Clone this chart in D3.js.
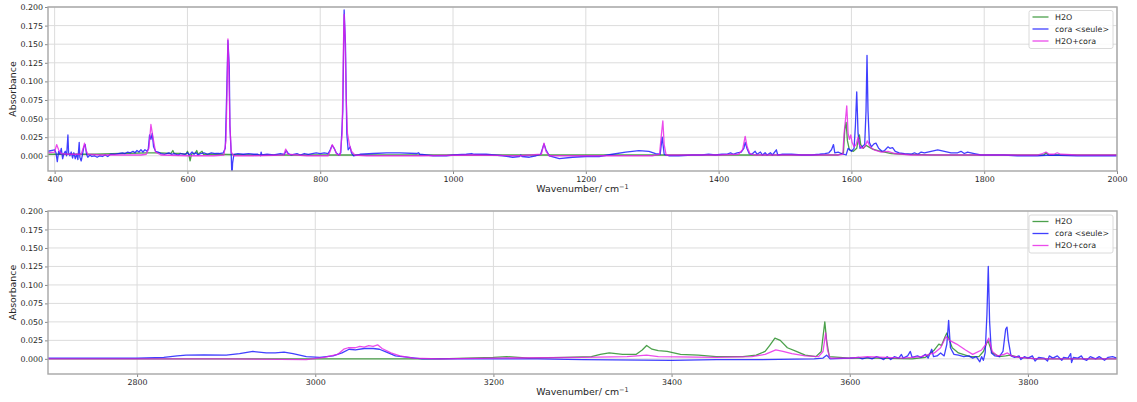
<!DOCTYPE html>
<head>
	<script src="https://d3js.org/d3.v7.min.js"></script>
	<style>
		body {
			margin: 0;
			background: #fff;
		}
		text {
			font-family: "DejaVu Sans", sans-serif;
			fill: #262626;
		}
		.tick text {
			font-size: 7.9px;
		}
		.label {
			font-size: 9.4px;
		}
		.legend text {
			font-size: 7.9px;
		}
	</style>
</head>
<body>
	<script>
		var seriesNames = ["H2O", "cora <seule>", "H2O+cora"];
		var seriesColors = ["#1f8a1f", "#1010ff", "#e61ee6"];
		var yTicks = [0, 0.025, 0.05, 0.075, 0.1, 0.125, 0.15, 0.175, 0.2];
		var xTicksTop = [400, 600, 800, 1000, 1200, 1400, 1600, 1800, 2000];
		var xTicksBottom = [2800, 3000, 3200, 3400, 3600, 3800];

		// top panel, 390 - 2000 cm-1
		var h2oLow = [[390,0.002],[420,0.002],[460,0.002],[500,0.003],[540,0.004],[560,0.004],[575,0.003],[578,0.007],[580,0.003],[590,0.003],[598,0.002],[600,0.006],[602,0.002],[604,-0.007],[606,0.002],[612,0.004],[614,0.007],[616,0.002],[622,0.006],[624,0.002],[640,0.002],[700,0.001],[800,0.001],[900,0.001],[1100,0.001],[1300,0.001],[1500,0.001],[1580,0.001],[1588,0.004],[1590,0.035],[1592,0.045],[1594,0.020],[1597,0.008],[1603,0.006],[1608,0.010],[1610,0.020],[1612,0.028],[1614,0.015],[1618,0.010],[1622,0.014],[1626,0.012],[1632,0.009],[1640,0.007],[1650,0.005],[1660,0.003],[1680,0.002],[1720,0.001],[1800,0.001],[1890,0.001],[1893,0.004],[1897,0.001],[2000,0.001]];
		var coraLow = [[390,0.006],[400,0.008],[402,0.004],[404,-0.008],[406,0.006],[408,0.002],[410,0.010],[412,-0.004],[414,0.003],[416,0.006],[418,0.000],[420,0.028],[421,0.004],[423,0.000],[425,0.005],[427,-0.003],[429,0.004],[431,-0.004],[433,0.002],[435,-0.005],[437,0.018],[438,-0.002],[440,-0.007],[442,0.002],[444,0.012],[446,0.015],[448,0.002],[450,-0.002],[453,0.001],[456,-0.001],[460,0.000],[464,-0.002],[468,0.000],[472,-0.001],[476,0.001],[480,-0.001],[484,0.002],[490,0.002],[496,0.003],[502,0.004],[506,0.003],[510,0.005],[514,0.004],[518,0.006],[521,0.004],[524,0.007],[527,0.005],[530,0.008],[533,0.005],[536,0.008],[539,0.006],[541,0.009],[543,0.028],[545,0.022],[547,0.030],[549,0.012],[552,0.006],[556,0.005],[560,0.003],[566,0.002],[572,0.004],[576,0.002],[580,0.003],[586,0.001],[590,0.003],[596,0.002],[600,0.004],[603,0.001],[607,0.005],[610,0.002],[613,0.004],[616,0.001],[620,0.003],[625,0.004],[630,0.002],[636,0.004],[642,0.003],[648,0.003],[654,0.004],[657,0.010],[659,0.080],[661,0.155],[663,0.120],[664,0.040],[666,0.000],[667,-0.030],[668,-0.010],[670,0.002],[676,0.003],[684,0.002],[692,0.003],[700,0.002],[706,0.002],[710,0.000],[711,0.005],[712,0.001],[720,0.002],[730,0.001],[740,0.003],[746,0.002],[749,0.007],[752,0.003],[756,0.001],[760,0.002],[765,0.003],[770,0.001],[776,0.003],[782,0.002],[788,0.003],[794,0.004],[800,0.003],[806,0.004],[812,0.003],[815,0.008],[818,0.014],[821,0.010],[824,0.004],[828,0.001],[831,0.004],[834,0.060],[836,0.196],[838,0.150],[840,0.030],[842,0.008],[845,0.012],[847,0.004],[850,0.000],[860,0.002],[880,0.003],[900,0.004],[920,0.004],[945,0.003],[948,0.004],[950,0.002],[970,0.000],[990,0.000],[1000,0.001],[1020,0.002],[1028,0.003],[1032,0.002],[1050,0.002],[1075,0.000],[1090,-0.002],[1100,-0.001],[1102,0.001],[1104,-0.001],[1115,-0.002],[1125,0.000],[1132,0.002],[1137,0.016],[1140,0.008],[1145,0.000],[1160,-0.004],[1180,-0.002],[1200,-0.001],[1220,-0.001],[1240,0.002],[1260,0.005],[1280,0.007],[1295,0.006],[1305,0.003],[1312,0.002],[1315,0.025],[1318,0.002],[1325,0.000],[1340,0.000],[1360,0.001],[1375,0.001],[1385,0.002],[1395,0.001],[1405,0.002],[1412,0.002],[1418,0.004],[1422,0.002],[1428,0.004],[1434,0.005],[1438,0.010],[1440,0.018],[1443,0.009],[1446,0.003],[1450,0.002],[1455,0.006],[1458,0.002],[1463,0.005],[1466,0.001],[1470,0.004],[1473,0.001],[1478,0.004],[1481,0.001],[1487,0.008],[1489,0.001],[1495,0.002],[1510,0.002],[1525,0.001],[1540,0.001],[1552,0.002],[1560,0.003],[1566,0.004],[1570,0.008],[1573,0.015],[1575,0.004],[1580,0.005],[1585,0.003],[1589,0.002],[1592,0.001],[1595,0.010],[1600,0.006],[1604,0.010],[1606,0.040],[1608,0.086],[1610,0.030],[1613,0.010],[1616,0.012],[1620,0.015],[1622,0.060],[1623.5,0.135],[1625,0.060],[1627,0.018],[1630,0.012],[1634,0.016],[1637,0.017],[1641,0.010],[1646,0.006],[1650,0.007],[1655,0.012],[1658,0.010],[1662,0.011],[1666,0.006],[1672,0.004],[1680,0.003],[1690,0.002],[1695,0.004],[1700,0.002],[1705,0.005],[1710,0.004],[1720,0.006],[1730,0.008],[1740,0.006],[1750,0.004],[1760,0.004],[1765,0.006],[1770,0.003],[1775,0.005],[1785,0.003],[1795,0.001],[1810,0.001],[1830,0.001],[1850,0.000],[1880,0.000],[1900,0.001],[1940,0.000],[2000,0.000]];
		var mixLow = [[390,0.004],[400,0.005],[403,0.015],[406,0.008],[410,0.003],[420,0.002],[440,0.002],[443,0.010],[445,0.017],[447,0.008],[450,0.002],[470,0.001],[500,0.001],[530,0.001],[538,0.002],[542,0.010],[545,0.042],[548,0.025],[552,0.005],[560,0.001],[600,0.000],[640,0.000],[655,0.001],[658,0.020],[660,0.100],[661,0.157],[662,0.130],[664,0.040],[666,0.005],[670,0.000],[700,0.000],[745,0.001],[748,0.009],[751,0.002],[780,0.000],[812,0.000],[815,0.006],[818,0.015],[821,0.010],[825,0.002],[830,0.001],[833,0.030],[835,0.150],[836,0.190],[837.5,0.160],[839,0.080],[841,0.030],[844,0.015],[847,0.006],[852,0.001],[870,0.000],[950,0.000],[1030,0.001],[1100,0.000],[1133,0.002],[1137,0.017],[1140,0.006],[1145,0.000],[1300,0.000],[1311,0.002],[1314,0.030],[1316,0.047],[1318,0.015],[1321,0.001],[1400,0.001],[1430,0.002],[1436,0.008],[1440,0.026],[1443,0.012],[1447,0.003],[1455,0.001],[1550,0.001],[1580,0.001],[1587,0.002],[1589,0.030],[1591,0.048],[1593,0.067],[1595,0.030],[1597,0.022],[1599,0.028],[1601,0.018],[1604,0.012],[1607,0.015],[1610,0.025],[1612,0.015],[1616,0.010],[1620,0.012],[1624,0.020],[1628,0.012],[1634,0.008],[1645,0.005],[1655,0.006],[1665,0.003],[1690,0.001],[1750,0.001],[1800,0.001],[1880,0.001],[1888,0.003],[1893,0.005],[1898,0.002],[1905,0.002],[1910,0.004],[1915,0.002],[1940,0.001],[2000,0.001]];

		// bottom panel, 2700 - 3900 cm-1
		var h2oHigh = [[2700,0.000],[3000,0.000],[3140,0.000],[3170,0.001],[3200,0.002],[3215,0.003],[3240,0.001],[3280,0.002],[3310,0.003],[3320,0.006],[3330,0.008],[3345,0.006],[3360,0.006],[3367,0.012],[3372,0.018],[3378,0.013],[3385,0.011],[3395,0.010],[3410,0.006],[3430,0.005],[3450,0.003],[3480,0.003],[3495,0.005],[3505,0.010],[3510,0.018],[3516,0.028],[3522,0.025],[3530,0.015],[3540,0.010],[3550,0.005],[3562,0.003],[3568,0.010],[3570,0.030],[3572,0.050],[3574,0.025],[3577,0.003],[3600,0.001],[3630,0.001],[3670,0.000],[3685,0.002],[3695,0.012],[3700,0.020],[3703,0.018],[3707,0.030],[3709,0.035],[3712,0.025],[3715,0.015],[3722,0.008],[3735,0.003],[3745,0.003],[3750,0.010],[3755,0.025],[3760,0.008],[3768,0.003],[3775,0.004],[3780,0.005],[3790,0.002],[3810,0.000],[3900,0.000]];
		var coraHigh = [[2700,0.001],[2800,0.001],[2830,0.002],[2845,0.004],[2855,0.005],[2875,0.0055],[2900,0.005],[2915,0.007],[2930,0.010],[2945,0.008],[2955,0.008],[2965,0.009],[2975,0.007],[2990,0.003],[3005,0.002],[3020,0.004],[3030,0.008],[3038,0.013],[3045,0.012],[3055,0.014],[3065,0.014],[3072,0.013],[3080,0.009],[3090,0.004],[3105,0.002],[3120,0.000],[3160,0.000],[3250,0.000],[3300,-0.001],[3400,-0.002],[3450,-0.001],[3500,-0.001],[3560,0.000],[3570,0.001],[3574,0.005],[3578,0.000],[3600,0.001],[3610,0.002],[3614,0.000],[3620,0.002],[3625,0.000],[3630,0.003],[3635,0.001],[3638,-0.001],[3642,0.003],[3646,-0.001],[3650,0.003],[3655,0.001],[3658,0.006],[3660,0.001],[3665,0.004],[3668,0.010],[3670,0.002],[3676,0.004],[3680,0.002],[3685,0.006],[3688,0.001],[3692,0.013],[3694,0.003],[3698,0.004],[3702,0.008],[3706,0.004],[3709,0.020],[3711,0.052],[3713,0.015],[3717,0.006],[3722,0.005],[3728,0.003],[3734,0.004],[3738,0.001],[3742,0.003],[3746,-0.004],[3748,0.003],[3750,-0.002],[3752,0.008],[3754,0.060],[3755.5,0.125],[3757,0.050],[3759,0.008],[3763,0.004],[3768,0.003],[3772,0.010],[3775,0.040],[3776.5,0.043],[3778,0.025],[3781,0.004],[3785,0.002],[3790,0.004],[3792,-0.001],[3796,0.003],[3800,0.001],[3805,0.004],[3808,-0.003],[3812,0.002],[3818,0.001],[3822,-0.003],[3824,0.004],[3828,0.001],[3833,0.004],[3838,-0.002],[3840,0.002],[3845,0.001],[3848,0.007],[3849,-0.005],[3851,0.002],[3856,0.001],[3860,0.004],[3862,0.000],[3866,-0.002],[3870,0.003],[3876,0.000],[3880,0.003],[3886,-0.002],[3890,0.002],[3895,0.003],[3900,0.001]];
		var mixHigh = [[2700,0.000],[2900,0.000],[2990,-0.001],[3010,0.002],[3025,0.006],[3032,0.013],[3037,0.015],[3045,0.015],[3050,0.017],[3055,0.016],[3060,0.018],[3065,0.017],[3070,0.019],[3075,0.014],[3085,0.008],[3095,0.004],[3110,0.001],[3140,0.000],[3200,0.001],[3300,0.002],[3350,0.003],[3372,0.005],[3385,0.003],[3450,0.002],[3490,0.003],[3505,0.006],[3517,0.012],[3525,0.010],[3535,0.007],[3550,0.004],[3565,0.003],[3570,0.010],[3573,0.035],[3575,0.012],[3578,0.001],[3600,0.001],[3620,0.003],[3640,0.002],[3660,0.001],[3680,0.003],[3695,0.008],[3702,0.015],[3708,0.030],[3712,0.025],[3720,0.020],[3730,0.012],[3738,0.006],[3748,0.012],[3753,0.020],[3756,0.028],[3760,0.010],[3766,0.004],[3773,0.006],[3777,0.008],[3782,0.004],[3790,0.002],[3810,0.000],[3900,0.000]];

		var width = 1137, height = 402;
		var svg = d3.select("body")
			.append("svg")
			.attr("width", width)
			.attr("height", height);

		var panels = [
			{ top: 7, bottom: 171, xDomain: [390, 2000], xTicks: xTicksTop, series: [h2oLow, coraLow, mixLow], labelY: 192 },
			{ top: 211, bottom: 374, xDomain: [2700, 3900], xTicks: xTicksBottom, series: [h2oHigh, coraHigh, mixHigh], labelY: 395 }
		];
		var left = 48, right = 1117;

		panels.forEach(function(p, pi) {
			var xScale = d3.scaleLinear().domain(p.xDomain).range([left, right]);
			var yScale = d3.scaleLinear().domain([-0.0205, 0.2]).range([p.bottom, p.top]);
			var g = svg.append("g");
			var clipId = "clip" + pi;

			g.append("clipPath").attr("id", clipId)
				.append("rect")
				.attr("x", left).attr("y", p.top)
				.attr("width", right - left).attr("height", p.bottom - p.top);

			// grid
			g.append("g").selectAll("line")
				.data(yTicks).enter().append("line")
				.attr("x1", left).attr("x2", right)
				.attr("y1", d => yScale(d)).attr("y2", d => yScale(d))
				.attr("stroke", "#dcdcdc").attr("stroke-width", 1);
			g.append("g").selectAll("line")
				.data(p.xTicks).enter().append("line")
				.attr("x1", d => xScale(d)).attr("x2", d => xScale(d))
				.attr("y1", p.top).attr("y2", p.bottom)
				.attr("stroke", "#dcdcdc").attr("stroke-width", 1);

			// spectra
			var line = d3.line()
				.x(d => xScale(d[0]))
				.y(d => yScale(d[1]));
			g.append("g").attr("clip-path", "url(#" + clipId + ")")
				.selectAll("path")
				.data(p.series).enter().append("path")
				.attr("d", line)
				.attr("fill", "none")
				.attr("stroke", (d, i) => seriesColors[i])
				.attr("stroke-opacity", 0.8)
				.attr("stroke-width", 1.3)
				.attr("stroke-linejoin", "round");

			// axes
			var xAxis = d3.axisBottom(xScale).tickValues(p.xTicks).tickSize(3).tickPadding(2).tickFormat(d3.format("d"));
			var yAxis = d3.axisLeft(yScale).tickValues(yTicks).tickSize(3).tickPadding(2).tickFormat(d3.format(".3f"));
			var gx = g.append("g").attr("transform", "translate(0," + p.bottom + ")").call(xAxis);
			var gy = g.append("g").attr("transform", "translate(" + left + ",0)").call(yAxis);
			[gx, gy].forEach(function(a) {
				a.select(".domain").remove();
				a.selectAll(".tick line").attr("stroke", "#888");
			});

			g.append("rect")
				.attr("x", left).attr("y", p.top)
				.attr("width", right - left).attr("height", p.bottom - p.top)
				.attr("fill", "none").attr("stroke", "#a6a6a6").attr("stroke-width", 1.4);

			// labels
			var xl = g.append("text").attr("class", "label")
				.attr("x", (left + right) / 2).attr("y", p.labelY)
				.attr("text-anchor", "middle")
				.text("Wavenumber/ cm");
			xl.append("tspan").attr("dy", -3.5).style("font-size", "6.5px").text("\u22121");
			g.append("text").attr("class", "label")
				.attr("transform", "translate(16," + ((p.top + p.bottom) / 2) + ") rotate(-90)")
				.attr("text-anchor", "middle")
				.text("Absorbance");

			// legend
			var lg = g.append("g").attr("class", "legend")
				.attr("transform", "translate(1029," + (p.top + 3.5 + pi * 0.5) + ")");
			lg.append("rect")
				.attr("width", 84).attr("height", 38).attr("rx", 2)
				.attr("fill", "#fff").attr("fill-opacity", 0.85)
				.attr("stroke", "#d0d0d0").attr("stroke-width", 0.8);
			seriesNames.forEach(function(name, i) {
				var yy = 6.5 + i * 12;
				lg.append("line")
					.attr("x1", 3.5).attr("x2", 19.5).attr("y1", yy).attr("y2", yy)
					.attr("stroke", seriesColors[i]).attr("stroke-opacity", 0.8).attr("stroke-width", 1.3);
				lg.append("text").attr("x", 26).attr("y", yy + 2.9).text(name);
			});
		});
	</script>
</body>
</html>
